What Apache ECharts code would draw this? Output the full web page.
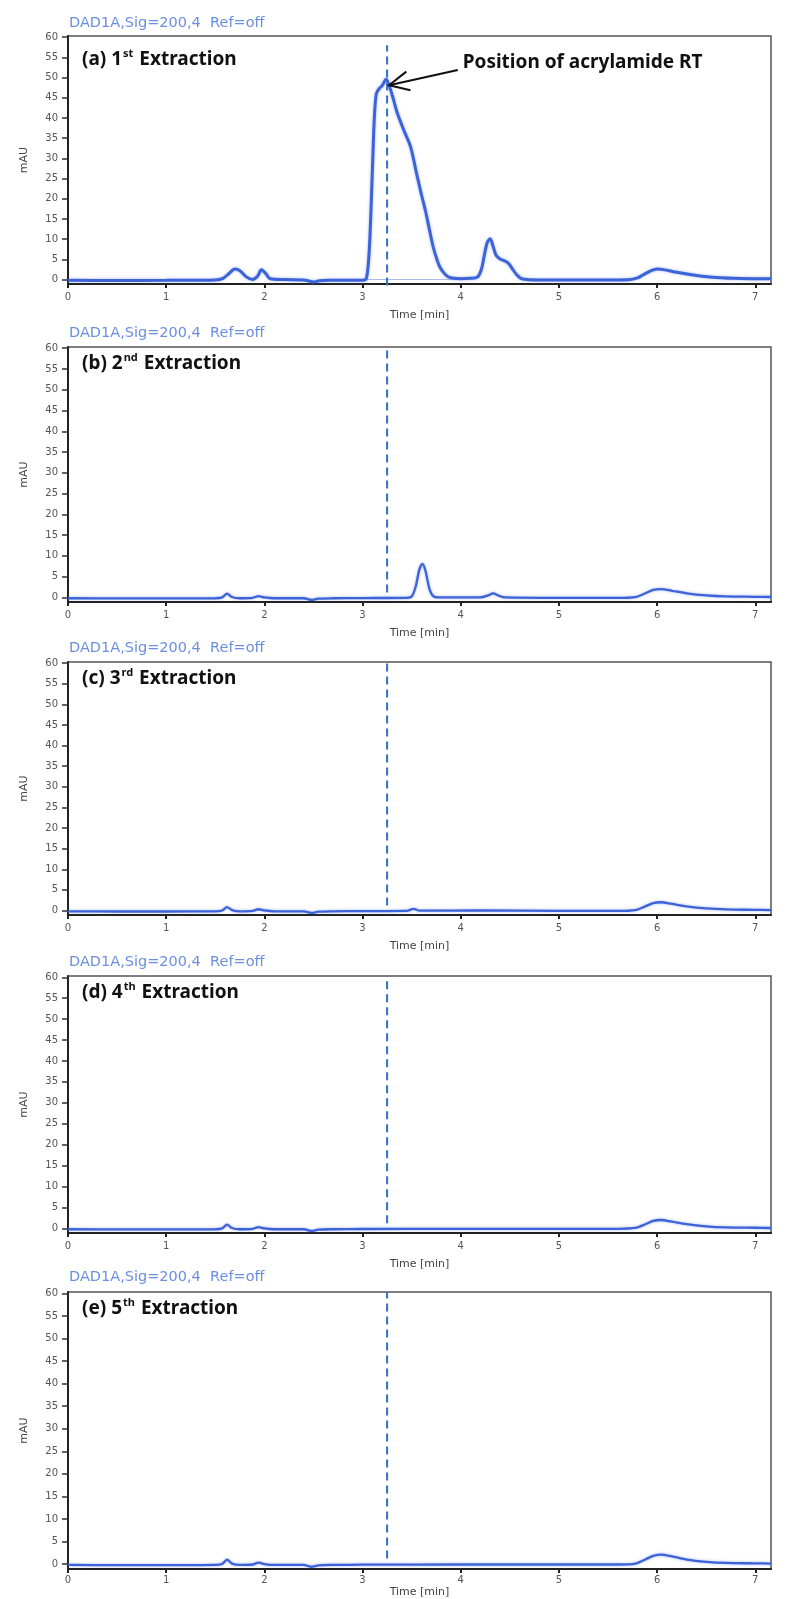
<!DOCTYPE html>
<html>
<head>
<meta charset="utf-8">
<script src="https://cdn.jsdelivr.net/npm/echarts@6/dist/echarts.min.js"></script>
<style>
  html, body { margin: 0; padding: 0; background: #fff; }
  #chart { width: 800px; height: 1599px; }
</style>
</head>
<body>
<div id="chart"></div>
<script>
// tick labels
const timeTicks = [0, 1, 2, 3, 4, 5, 6, 7]
const mauTicks = [0, 5, 10, 15, 20, 25, 30, 35, 40, 45, 50, 55, 60]
const headerText = 'DAD1A,Sig=200,4  Ref=off'
const panelLetters = ['a', 'b', 'c', 'd', 'e']
const panelOrdinals = [['1', 'st'], ['2', 'nd'], ['3', 'rd'], ['4', 'th'], ['5', 'th']]

// retention time of acrylamide (dashed marker), min
const rtTime = 3.25
// vertical extent of the dashed marker in each panel, mAU
const rtSpans = [[-1.5, 58], [1.2, 60.3], [1.2, 60.3], [1.2, 60.3], [1.2, 60.3]]

// chromatograms [time (min), mAU]
const ext1 = [[0, -0.2], [0.5, -0.25], [1.0, -0.2], [1.5, -0.1], [1.58, 0.3], [1.64, 1.5], [1.70, 2.6], [1.75, 2.2],
  [1.82, 0.6], [1.88, 0.0], [1.93, 0.8], [1.97, 2.4], [2.01, 1.6], [2.06, 0.2], [2.2, 0.0], [2.4, -0.1], [2.46, -0.4],
  [2.50, -0.6], [2.56, -0.3], [2.65, -0.2], [3.0, -0.2], [3.04, 0.3], [3.07, 8], [3.10, 27], [3.12, 40], [3.14, 46],
  [3.17, 47.3], [3.20, 48], [3.24, 49.6], [3.27, 48.1], [3.31, 45], [3.35, 41.5], [3.42, 37], [3.49, 32.8],
  [3.55, 26.3], [3.60, 21], [3.64, 17.1], [3.68, 12.5], [3.72, 8], [3.76, 4.8], [3.79, 3.0], [3.83, 1.6], [3.87, 0.7],
  [3.93, 0.3], [4.0, 0.2], [4.1, 0.3], [4.17, 0.6], [4.21, 2.5], [4.24, 6], [4.27, 9.2], [4.30, 10.1], [4.33, 8.2],
  [4.36, 6.0], [4.40, 5.1], [4.45, 4.6], [4.49, 3.9], [4.53, 2.5], [4.57, 1.2], [4.62, 0.2], [4.8, -0.1], [5.2, -0.1],
  [5.6, -0.1], [5.73, 0.0], [5.80, 0.4], [5.86, 1.2], [5.93, 2.1], [6.0, 2.6], [6.08, 2.4], [6.2, 1.8], [6.35, 1.2],
  [6.51, 0.7], [6.65, 0.45], [6.78, 0.3], [7.0, 0.2], [7.16, 0.2]]
const ext2 = [[0, -0.2], [0.5, -0.25], [1.0, -0.25], [1.5, -0.2], [1.57, 0.0], [1.62, 0.9], [1.67, 0.1], [1.75, -0.2],
  [1.88, -0.1], [1.94, 0.3], [2.0, 0.0], [2.1, -0.2], [2.4, -0.2], [2.48, -0.6], [2.55, -0.3], [2.7, -0.2],
  [3.0, -0.15], [3.45, -0.1], [3.50, 0.2], [3.54, 2.5], [3.58, 6.8], [3.61, 8.1], [3.64, 6.5], [3.68, 2.2],
  [3.72, 0.3], [3.78, 0.0], [4.2, 0.0], [4.28, 0.5], [4.33, 1.0], [4.38, 0.5], [4.45, 0.0], [5.0, -0.1], [5.6, -0.1],
  [5.78, 0.1], [5.88, 1.0], [5.96, 1.8], [6.04, 2.0], [6.15, 1.6], [6.3, 1.0], [6.5, 0.5], [6.7, 0.25], [7.0, 0.15],
  [7.16, 0.1]]
const ext3 = [[0, -0.2], [0.5, -0.25], [1.0, -0.25], [1.5, -0.2], [1.57, 0.0], [1.62, 0.8], [1.67, 0.1], [1.75, -0.2],
  [1.88, -0.1], [1.94, 0.3], [2.0, 0.0], [2.1, -0.2], [2.4, -0.2], [2.48, -0.6], [2.55, -0.3], [2.7, -0.2],
  [3.0, -0.15], [3.45, -0.1], [3.52, 0.4], [3.58, -0.05], [4.2, 0.0], [5.0, -0.1], [5.6, -0.1], [5.78, 0.1],
  [5.88, 1.0], [5.96, 1.8], [6.04, 2.0], [6.15, 1.6], [6.3, 1.0], [6.5, 0.5], [6.7, 0.25], [7.0, 0.15], [7.16, 0.1]]
const ext4 = [[0, -0.2], [0.5, -0.25], [1.0, -0.25], [1.5, -0.2], [1.57, 0.0], [1.62, 0.9], [1.67, 0.1], [1.75, -0.2],
  [1.88, -0.1], [1.94, 0.3], [2.0, 0.0], [2.1, -0.2], [2.4, -0.2], [2.48, -0.6], [2.55, -0.3], [2.7, -0.2],
  [3.0, -0.15], [4.0, -0.1], [5.0, -0.1], [5.6, -0.1], [5.78, 0.1], [5.88, 1.0], [5.96, 1.8], [6.04, 2.0],
  [6.15, 1.6], [6.3, 1.0], [6.5, 0.5], [6.7, 0.25], [7.0, 0.15], [7.16, 0.1]]
const ext5 = [[0, -0.2], [0.5, -0.25], [1.0, -0.25], [1.5, -0.2], [1.57, 0.0], [1.62, 1.0], [1.67, 0.1], [1.75, -0.2],
  [1.88, -0.1], [1.94, 0.3], [2.0, 0.0], [2.1, -0.2], [2.4, -0.2], [2.48, -0.6], [2.55, -0.3], [2.7, -0.2],
  [3.0, -0.15], [4.0, -0.1], [5.0, -0.1], [5.6, -0.1], [5.78, 0.1], [5.88, 1.0], [5.96, 1.8], [6.04, 2.1],
  [6.15, 1.7], [6.3, 1.0], [6.5, 0.5], [6.7, 0.25], [7.0, 0.15], [7.16, 0.1]]
const traces = [ext1, ext2, ext3, ext4, ext5]

// integration baseline under the big peak of the 1st extraction
const baseline1 = [[3.05, 0], [3.95, 0]]

// annotation on panel (a), anchored in data coordinates
const noteText = 'Position of acrylamide RT'
const noteAt = [4.02, 53.6]
const arrowFrom = [3.97, 51.9]
const arrowTo = [3.27, 48.1]

// panel geometry (px)
const panels = [
  { top: 36, height: 248, head: 24, label: 60, labelMargin: 8, nameGap: 26 },
  { top: 347, height: 255, head: 334, label: 364, labelMargin: 8, nameGap: 26 },
  { top: 662, height: 253, head: 649, label: 679, labelMargin: 8, nameGap: 26 },
  { top: 976, height: 257, head: 963, label: 993, labelMargin: 8, nameGap: 26 },
  { top: 1292, height: 283, head: 1278, label: 1309, labelMargin: 6, nameGap: 18 }
]

const traceColor = '#3d63d9'
const axisFont = 'DejaVu Sans'
const titleFont = 'Noto Sans'

let myChart = echarts.init(document.getElementById('chart'))

let grid = [], xAxis = [], yAxis = [], title = [], series = []
panels.forEach((p, i) => {
  grid.push({
    left: 68, width: 703, top: p.top, height: p.height,
    show: true, borderColor: '#555', borderWidth: 1.5
  })
  xAxis.push({
    gridIndex: i, type: 'value', min: 0, max: 7.16,
    axisLine: { show: true, onZero: false, lineStyle: { color: '#222', width: 2 } },
    axisTick: { show: true, length: 4, customValues: timeTicks, lineStyle: { color: '#222', width: 2 } },
    axisLabel: { customValues: timeTicks, color: '#555', fontSize: 10, margin: p.labelMargin, fontFamily: axisFont },
    splitLine: { show: false },
    name: 'Time [min]', nameLocation: 'middle', nameGap: p.nameGap,
    nameTextStyle: { color: '#444', fontSize: 11, fontFamily: axisFont }
  })
  yAxis.push({
    gridIndex: i, type: 'value', min: -1.1, max: 60.3,
    axisLine: { show: true, onZero: false, lineStyle: { color: '#222', width: 2 } },
    axisTick: { show: true, length: 6, customValues: mauTicks, lineStyle: { color: '#333', width: 1.5 } },
    axisLabel: { customValues: mauTicks, color: '#555', fontSize: 10, margin: 10, fontFamily: axisFont },
    splitLine: { show: false },
    name: 'mAU', nameLocation: 'middle', nameGap: 38, nameRotate: 90,
    nameTextStyle: { color: '#444', fontSize: 11, fontFamily: axisFont }
  })
  title.push({
    text: headerText, left: 69, top: p.head - 8, padding: 0,
    textStyle: { fontSize: 14.5, fontWeight: 'normal', color: '#6b8fe0', fontFamily: axisFont }
  })
  title.push({
    text: '{m|(' + panelLetters[i] + ') ' + panelOrdinals[i][0] + '}{s|' + panelOrdinals[i][1] + '}{m| Extraction}',
    left: 82, top: p.label - 12, padding: 0,
    textStyle: {
      rich: {
        m: { fontSize: 19, fontWeight: 'bold', color: '#111', fontFamily: titleFont, lineHeight: 24 },
        s: { fontSize: 11, fontWeight: 'bold', color: '#111', fontFamily: titleFont, lineHeight: 22, verticalAlign: 'top', padding: [0, 1, 0, 1] }
      }
    }
  })
  series.push({
    type: 'line', xAxisIndex: i, yAxisIndex: i, data: traces[i],
    symbol: 'none', smooth: 0.3, z: 3,
    lineStyle: { color: traceColor, width: i === 0 ? 3 : 2.3, shadowBlur: 3, shadowColor: 'rgba(61,99,217,0.45)' }
  })
  series.push({
    type: 'line', xAxisIndex: i, yAxisIndex: i, clip: false, z: 4,
    data: [[rtTime, rtSpans[i][0]], [rtTime, rtSpans[i][1]]],
    symbol: 'none', lineStyle: { color: '#2f6fcf', width: 2, type: [8, 5] }
  })
})
series.push({
  type: 'line', xAxisIndex: 0, yAxisIndex: 0, data: baseline1, symbol: 'none', z: 2,
  lineStyle: { color: '#a9b8e6', width: 1 }
})

myChart.setOption({
  animation: false,
  backgroundColor: '#fff',
  grid, xAxis, yAxis, title, series
})

// arrow + note for panel (a)
const p0 = myChart.convertToPixel({ gridIndex: 0 }, arrowFrom)
const p1 = myChart.convertToPixel({ gridIndex: 0 }, arrowTo)
const pn = myChart.convertToPixel({ gridIndex: 0 }, noteAt)
const ang = Math.atan2(p0[1] - p1[1], p0[0] - p1[0])
const headLen = 22, headAng = 0.45
const h1 = [p1[0] + headLen * Math.cos(ang - headAng), p1[1] + headLen * Math.sin(ang - headAng)]
const h2 = [p1[0] + headLen * Math.cos(ang + headAng), p1[1] + headLen * Math.sin(ang + headAng)]
myChart.setOption({
  graphic: [
    { type: 'polyline', shape: { points: [p0, p1] }, style: { stroke: '#111', lineWidth: 2, fill: null }, z: 10 },
    { type: 'polyline', shape: { points: [h1, p1, h2] }, style: { stroke: '#111', lineWidth: 2, fill: null }, z: 10 },
    {
      type: 'text', x: pn[0], y: pn[1], z: 10,
      style: { text: noteText, fill: '#111', font: 'bold 19px "Noto Sans"', verticalAlign: 'middle' }
    }
  ]
})
</script>
</body>
</html>
